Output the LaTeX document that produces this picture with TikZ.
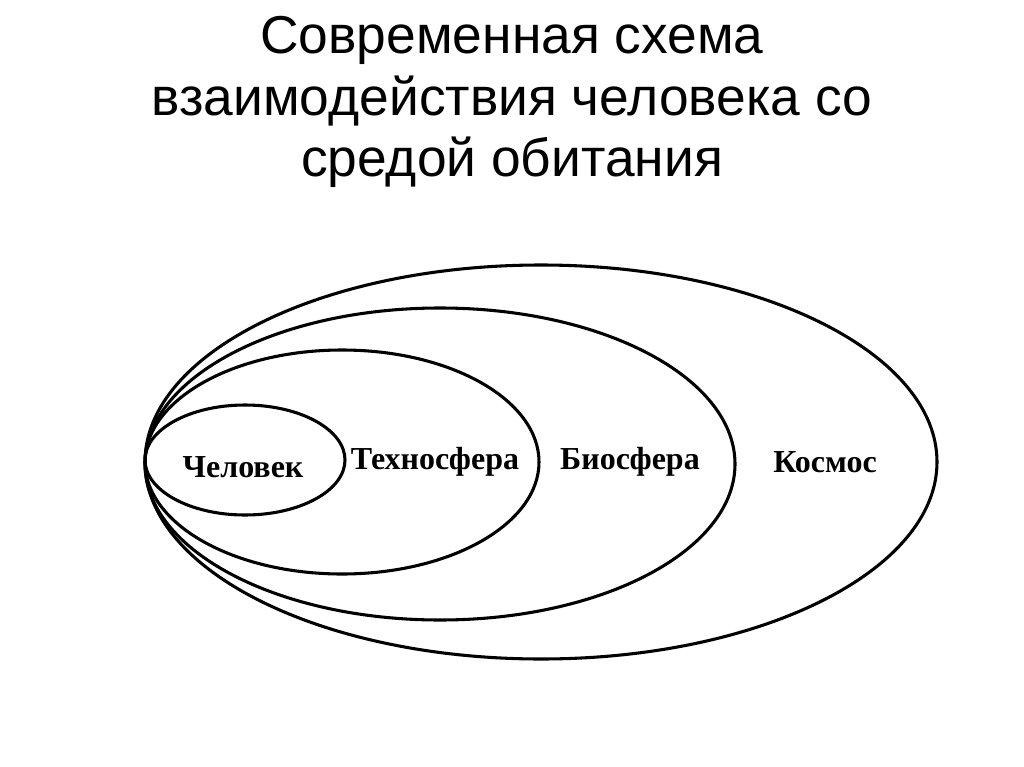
\documentclass[tikz,border=0pt]{standalone}
\usepackage{fontspec}
\setmainfont{Liberation Sans}
\newfontfamily\lblfont{Liberation Serif}
\begin{document}
\begin{tikzpicture}[x=0.75pt,y=-0.75pt,
  ring/.style={line width=2.3pt},
  lbl/.style={font=\lblfont\bfseries\fontsize{24}{28}\selectfont}]
\useasboundingbox (0,0) rectangle (1024,767);
\node[align=center,font=\fontsize{40}{46}\selectfont] (title) at (512,102)
 {Современная схема\\взаимодействия человека со\\средой обитания};
\draw[ring] (541,462) ellipse [x radius=396, y radius=197];
\draw[ring] (440,464) ellipse [x radius=295, y radius=156];
\draw[ring] (342,462) ellipse [x radius=197, y radius=112];
\draw[ring] (245,460) ellipse [x radius=100, y radius=55];
\node[lbl] (a) at (243,467) {Человек};
\node[lbl] (b) at (435,462) {Техносфера};
\node[lbl] (c) at (630,462) {Биосфера};
\node[lbl] (d) at (825,462) {Космос};
\end{tikzpicture}
\end{document}
